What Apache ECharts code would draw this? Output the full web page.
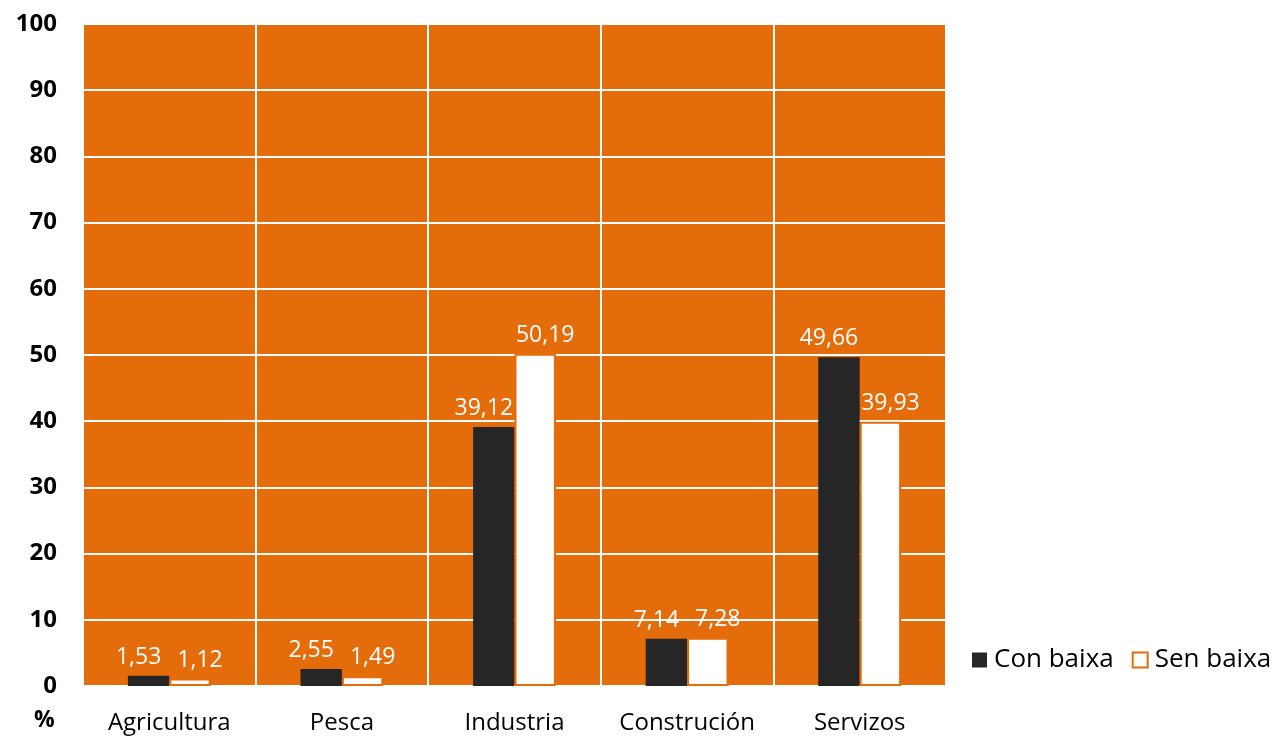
<!DOCTYPE html>
<html><head><meta charset="utf-8">
<script src="https://cdn.jsdelivr.net/npm/echarts@6/dist/echarts.min.js"></script>
<style>html,body{margin:0;padding:0;background:#fff}#c{width:1282px;height:740px}</style>
</head><body><div id="c"></div>
<script>
const categories = ['Agricultura', 'Pesca', 'Industria', 'Construción', 'Servizos'];
const conBaixa = [1.53, 2.55, 39.12, 7.14, 49.66];
const senBaixa = [1.12, 1.49, 50.19, 7.28, 39.93];
const seriesNames = ['Con baixa', 'Sen baixa'];
const yTicks = [0, 10, 20, 30, 40, 50, 60, 70, 80, 90, 100];

const FONT = '"Open Sans", sans-serif';
const fmt = v => v.toFixed(2).replace('.', ',');
const chart = echarts.init(document.getElementById('c'), null, {renderer: 'canvas'});
const lbl = (dx) => ({
  show: true, position: 'top', distance: 7, color: '#fff', offset: [dx, 0],
  fontFamily: FONT, fontSize: 23, formatter: p => fmt(p.value)
});
chart.setOption({
  animation: false,
  backgroundColor: '#fff',
  textStyle: {fontFamily: FONT},
  grid: {left: 83, right: 336, top: 24, bottom: 54, show: true,
         backgroundColor: '#E46C0A', borderWidth: 0},
  legend: {
    left: 967, top: 642, itemWidth: 15, itemHeight: 15, itemGap: 18,
    icon: 'rect',
    textStyle: {fontFamily: FONT, fontSize: 26, color: '#000', padding: [0, 0, 0, 2]},
    data: seriesNames
  },
  graphic: [{type: 'text', left: 34, top: 709,
    style: {text: '%', font: 'bold 23px ' + FONT, fill: '#000'}}],
  xAxis: {
    type: 'category', data: categories,
    axisLine: {show: false}, axisTick: {show: false},
    axisLabel: {color: '#000', fontSize: 24, fontFamily: FONT, margin: 25, interval: 0},
    splitLine: {show: true, interval: 0, lineStyle: {color: '#fff', width: 2}}
  },
  yAxis: {
    type: 'value', min: 0, max: 100, interval: 10,
    axisLine: {show: false}, axisTick: {show: false},
    axisLabel: {color: '#000', fontSize: 24, fontWeight: 'bold', fontFamily: FONT, margin: 26,
      formatter: v => yTicks.includes(v) ? String(v) : ''},
    splitLine: {show: true, lineStyle: {color: '#fff', width: 2}}
  },
  series: [
    {name: seriesNames[0], type: 'bar', data: conBaixa, barWidth: '24%', barGap: '0%',
     itemStyle: {color: '#262626'}, label: lbl(-10)},
    {name: seriesNames[1], type: 'bar', data: senBaixa, barWidth: '24%',
     itemStyle: {color: '#fff', borderColor: '#E46C0A', borderWidth: 2}, label: lbl(10)}
  ]
});
</script></body></html>
